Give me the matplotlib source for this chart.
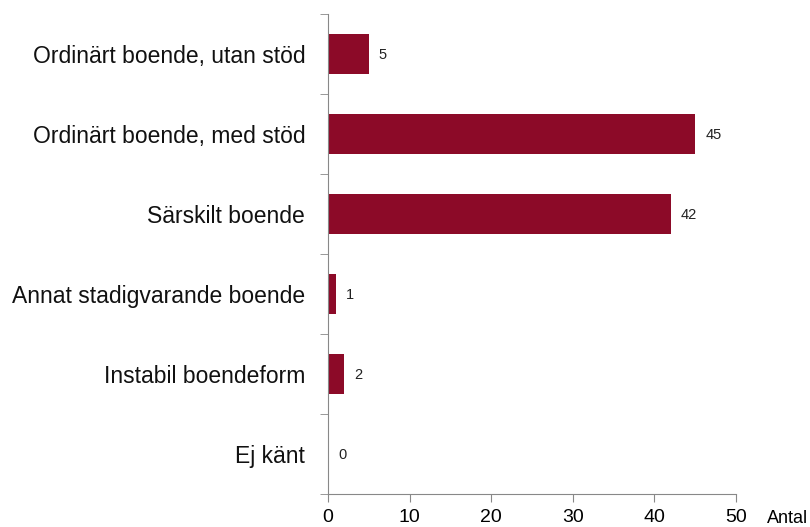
import matplotlib
matplotlib.use('Agg')
from matplotlib import pyplot as plt

categories = ['Ordinärt boende, utan stöd', 'Ordinärt boende, med stöd', 'Särskilt boende',
              'Annat stadigvarande boende', 'Instabil boendeform', 'Ej känt']
values = [5, 45, 42, 1, 2, 0]
xticks = [0, 10, 20, 30, 40, 50]

plt.rcParams['font.family'] = ['Liberation Sans', 'DejaVu Sans']

fig = plt.figure(figsize=(8.1, 5.27), dpi=100)
ax = fig.add_axes([0.405, 0.0626, 0.5037, 0.911])

pos = list(range(len(categories)))
ax.barh(pos, values, height=0.5, color='#8C0A28')
for p, v in zip(pos, values):
    ax.annotate(str(v), (v, p), xytext=(10, -1), textcoords='offset pixels',
                va='center', ha='left', fontsize=10.5, color='#222222')

ax.set_ylim(5.5, -0.5)
ax.set_xlim(0, 50)
ax.set_xticks(xticks)
ax.set_yticks(pos)
ax.set_yticklabels(categories, fontsize=16.5, color='#111111')
ax.set_yticks([i - 0.5 for i in range(len(categories) + 1)], minor=True)
ax.tick_params(axis='y', which='major', length=0, pad=16.5)
ax.tick_params(axis='y', which='minor', length=6, color='#888888', direction='out')
ax.tick_params(axis='x', length=6, color='#888888', labelsize=14, pad=5)

for s in ['top', 'right']:
    ax.spines[s].set_visible(False)
for s in ['left', 'bottom']:
    ax.spines[s].set_color('#888888')

ax.text(1.127, -0.05, 'Antal', transform=ax.transAxes, fontsize=13, va='center', ha='center')

plt.savefig('out.png', dpi=100)
